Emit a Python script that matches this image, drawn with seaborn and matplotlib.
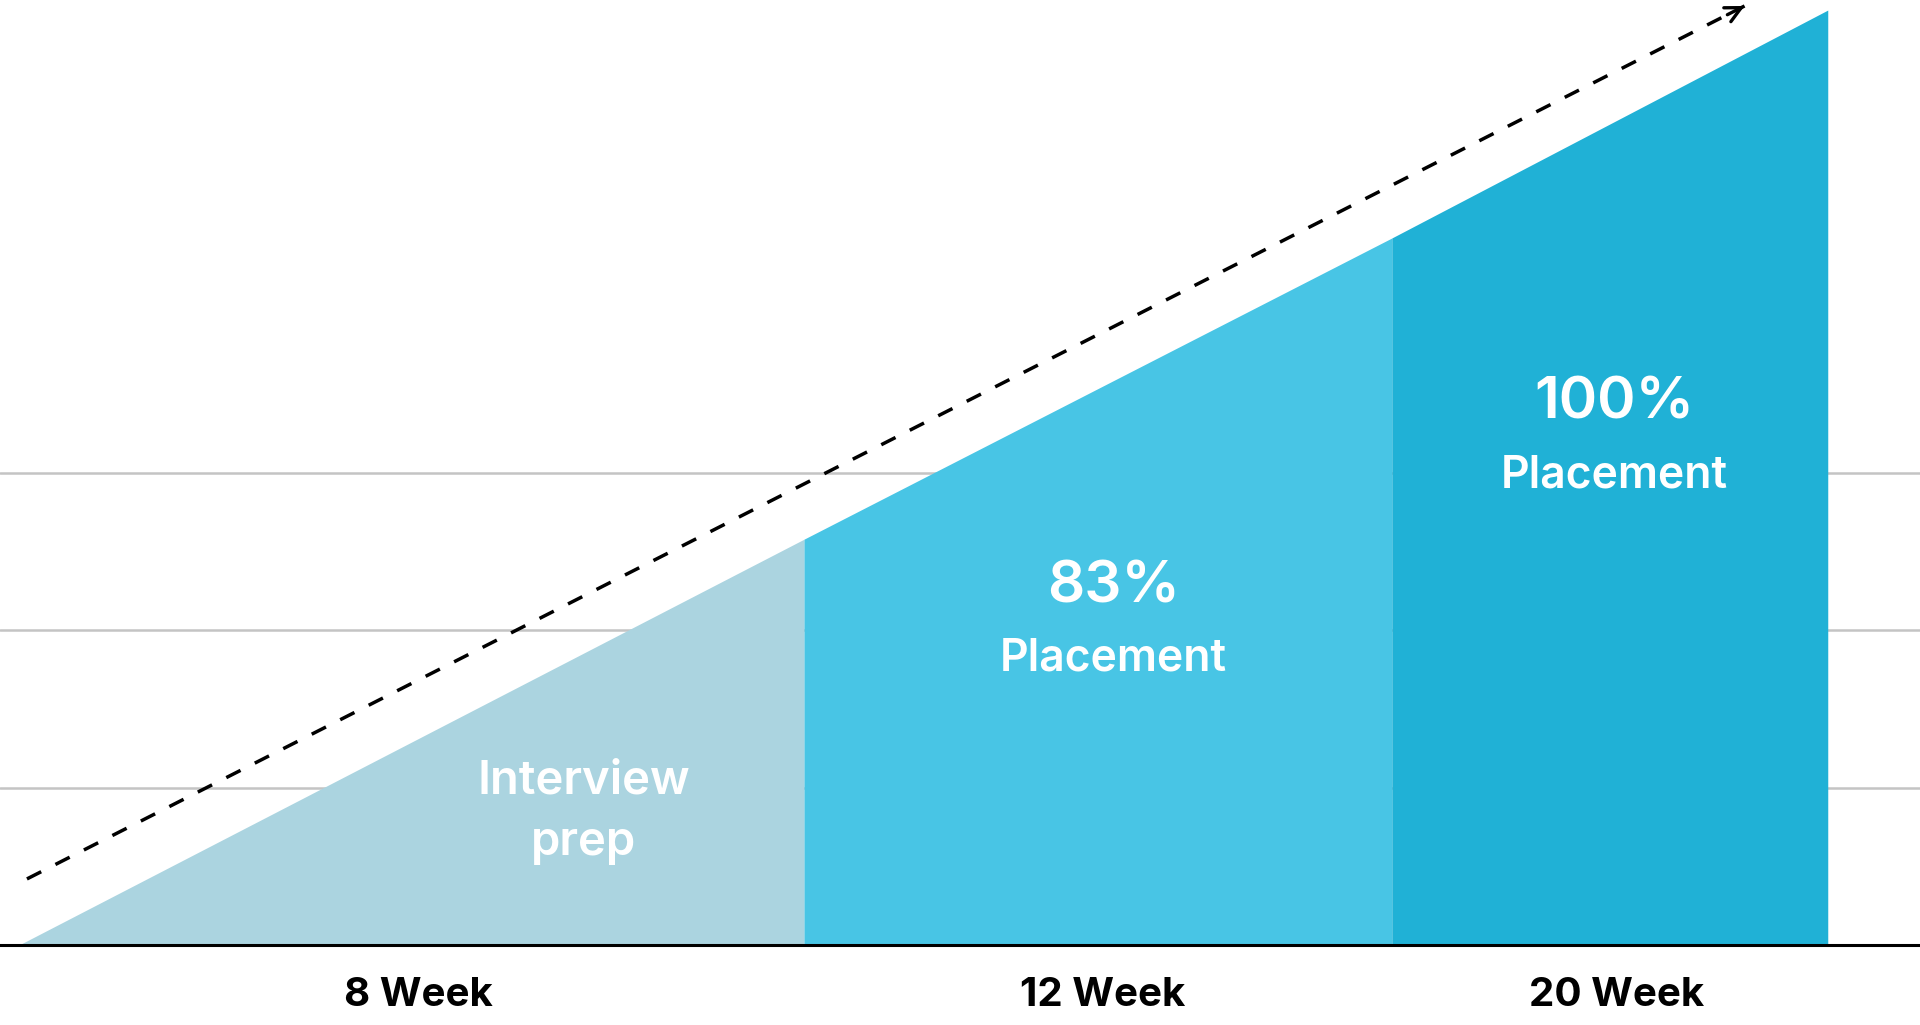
"""
Placement timeline chart: stepped area under a rising line.
"""

import matplotlib.pyplot as plt
import seaborn as sns


OUTPUT_FILE = "out.png"

# stages along the timeline
stage_labels = ["8 Week", "12 Week", "20 Week"]
stage_label_x = [2.21, 5.99, 8.83]
stage_edges = [0.0, 4.34, 7.59, 10.0]
edge_heights = [0.0, 2.58, 4.495, 5.944]
stage_colors = ["#abd4e0", "#48c5e5", "#20b1d6"]

# text written inside the stages
interview_text = ["Interview", "prep"]
interview_x = 3.12
interview_y = [0.966, 0.572]
placement_pct = ["83%", "100%"]
placement_x = [6.05, 8.82]
placement_pct_y = [2.18, 3.35]
placement_cap_y = [1.748, 2.91]

# horizontal guide lines
grid_levels = [1, 2, 3]

# dashed trend arrow
trend_x = [0.044, 9.54]
trend_y = [0.42, 5.97]


def draw_stages(ax) -> None:
    """
    Fills each stage under the rising line.
    """
    for i, color in enumerate(stage_colors):
        xs = [stage_edges[i], stage_edges[i + 1]]
        ys = [edge_heights[i], edge_heights[i + 1]]
        ax.fill_between(xs, 0, ys, color=color, linewidth=0, zorder=2)


def draw_trend(ax) -> None:
    """
    Draws the dashed arrow above the area.
    """
    sns.lineplot(
        x=trend_x,
        y=trend_y,
        color="black",
        linewidth=2.5,
        linestyle=(0, (4.6, 4.6)),
        ax=ax,
        zorder=4
    )

    dx = trend_x[1] - trend_x[0]
    dy = trend_y[1] - trend_y[0]
    ax.annotate(
        "",
        xy=(trend_x[1], trend_y[1]),
        xytext=(trend_x[1] - 0.01 * dx, trend_y[1] - 0.01 * dy),
        arrowprops=dict(
            arrowstyle="->",
            color="black",
            lw=2.4,
            mutation_scale=28,
            shrinkA=0,
            shrinkB=0
        ),
        annotation_clip=False,
        zorder=5
    )


def draw_texts(ax) -> None:
    """
    Writes the labels inside the stages.
    """
    text_style = dict(color="white", fontweight="semibold",
                      ha="center", va="baseline", zorder=6)

    for word, y in zip(interview_text, interview_y):
        ax.text(interview_x, y, word, fontsize=34, **text_style)

    for pct, x, y_pct, y_cap in zip(placement_pct, placement_x,
                                    placement_pct_y, placement_cap_y):
        ax.text(x, y_pct, pct, fontsize=42, **text_style)
        ax.text(x, y_cap, "Placement", fontsize=32, **text_style)

    ax.set_xticks(stage_label_x)
    ax.set_xticklabels(stage_labels, fontsize=29, fontweight="bold",
                       color="black")


def main() -> None:
    """
    Main execution function.
    """
    sns.set_theme(style="white")
    plt.rcParams["font.family"] = ["Inter", "DejaVu Sans"]

    fig = plt.figure(figsize=(19.2, 10.25), dpi=100)
    ax = fig.add_axes([0, 80 / 1025, 1, 945 / 1025])

    draw_stages(ax)
    draw_trend(ax)
    draw_texts(ax)

    ax.set_xlim(-0.105, 10.51)
    ax.set_ylim(0, 6.008)

    ax.set_yticks(grid_levels)
    ax.set_yticklabels([])
    ax.yaxis.grid(True, color="#c4c4c4", linewidth=1.8, zorder=1)
    ax.set_axisbelow(True)

    for side in ("top", "left", "right"):
        ax.spines[side].set_visible(False)
    ax.spines["bottom"].set_color("black")
    ax.spines["bottom"].set_linewidth(2.2)
    ax.spines["bottom"].set_zorder(7)

    ax.tick_params(axis="x", length=0, pad=23)
    ax.tick_params(axis="y", length=0)
    ax.set_xlabel("")
    ax.set_ylabel("")

    fig.savefig(OUTPUT_FILE, dpi=100)
    plt.close(fig)


if __name__ == "__main__":
    main()
